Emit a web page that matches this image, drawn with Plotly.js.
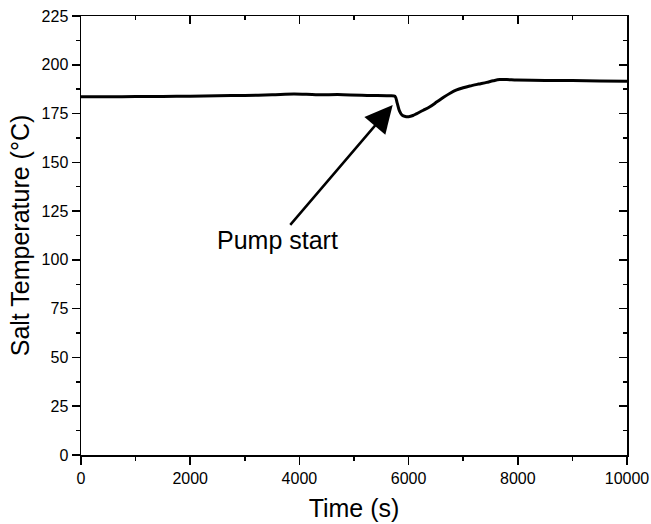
<!DOCTYPE html>
<html>
<head>
<meta charset="utf-8">
<script src="https://cdn.plot.ly/plotly-3.0.1.min.js"></script>
<style>html,body{margin:0;padding:0;background:#fff;}#chart{width:651px;height:524px;}</style>
</head>
<body>
<div id="chart"></div>
<script>
const timeS = [0, 500, 1000, 1500, 2000, 2500, 3000, 3500, 3900, 4300, 4800, 5300, 5600, 5750, 5790, 5830, 5880, 5940, 6000, 6080, 6150, 6270, 6390, 6520, 6640, 6760, 6880, 7000, 7120, 7280, 7430, 7550, 7670, 7800, 7980, 8500, 9000, 9500, 10000];
const saltTemp = [183.6, 183.6, 183.7, 183.8, 183.9, 184.1, 184.3, 184.6, 185.0, 184.7, 184.7, 184.3, 184.1, 183.9, 180.5, 176.5, 174.2, 173.5, 173.4, 174.0, 175.0, 176.7, 178.5, 181.0, 183.3, 185.4, 187.1, 188.2, 189.1, 190.1, 191.0, 191.8, 192.4, 192.4, 192.2, 192.0, 191.9, 191.7, 191.5];
const xTicks = [0, 2000, 4000, 6000, 8000, 10000];
const yTicks = [0, 25, 50, 75, 100, 125, 150, 175, 200, 225];
const annotText = 'Pump start';
const annotTip = [5709, 179.4];
const annotLabel = [3590, 110];

const font = 'Liberation Sans, Arial, sans-serif';
const common = {showgrid:false, zeroline:false, showline:true, linecolor:'#000', linewidth:1.5,
  tickcolor:'#000', tickwidth:1.5, ticklen:8, autorange:false};

const traces = [
  {x: timeS, y: saltTemp, mode:'lines', line:{color:'#000', width:3, shape:'spline', smoothing:0.8}, hoverinfo:'skip'},
  {x: timeS, y: saltTemp, xaxis:'x2', yaxis:'y2', mode:'lines', opacity:0, line:{width:1}, hoverinfo:'skip', showlegend:false}
];

const layout = {
  width:651, height:524,
  margin:{l:81, r:24, t:16, b:69},
  paper_bgcolor:'#fff', plot_bgcolor:'#fff',
  showlegend:false,
  font:{family:font, color:'#000'},
  xaxis: Object.assign({}, common, {range:[0,10000], tickvals:xTicks, ticktext:xTicks.map(String), ticks:'outside',
    tickfont:{size:16, family:font}, minor:{dtick:1000, ticklen:4, ticks:'outside', tickcolor:'#000', tickwidth:1.5},
    title:{text:'Time (s)', font:{size:25, family:font}, standoff:14}}),
  yaxis: Object.assign({}, common, {range:[0,225], tickvals:yTicks, ticktext:yTicks.map(String), ticks:'outside',
    tickfont:{size:16, family:font}, minor:{dtick:12.5, ticklen:4, ticks:'outside', tickcolor:'#000', tickwidth:1.5},
    title:{text:'Salt Temperature (°C)', font:{size:25, family:font}, standoff:5}}),
  xaxis2: Object.assign({}, common, {range:[0,10000], overlaying:'x', side:'top', anchor:'y2', tickvals:xTicks, ticks:'inside',
    showticklabels:false, minor:{dtick:1000, ticklen:4, ticks:'inside', tickcolor:'#000', tickwidth:1.5}}),
  yaxis2: Object.assign({}, common, {range:[0,225], overlaying:'y', side:'right', anchor:'x2', tickvals:yTicks, ticks:'inside',
    showticklabels:false, minor:{dtick:12.5, ticklen:4, ticks:'inside', tickcolor:'#000', tickwidth:1.5}}),
  annotations:[{
    x:annotTip[0], y:annotTip[1], xref:'x', yref:'y',
    ax:annotLabel[0], ay:annotLabel[1], axref:'x', ayref:'y',
    text:annotText, showarrow:true, arrowhead:2, arrowsize:2.2, arrowwidth:2.5, arrowcolor:'#000',
    font:{size:25, family:font, color:'#000'}
  }]
};

Plotly.newPlot('chart', traces, layout, {displayModeBar:false, staticPlot:true});
</script>
</body>
</html>
